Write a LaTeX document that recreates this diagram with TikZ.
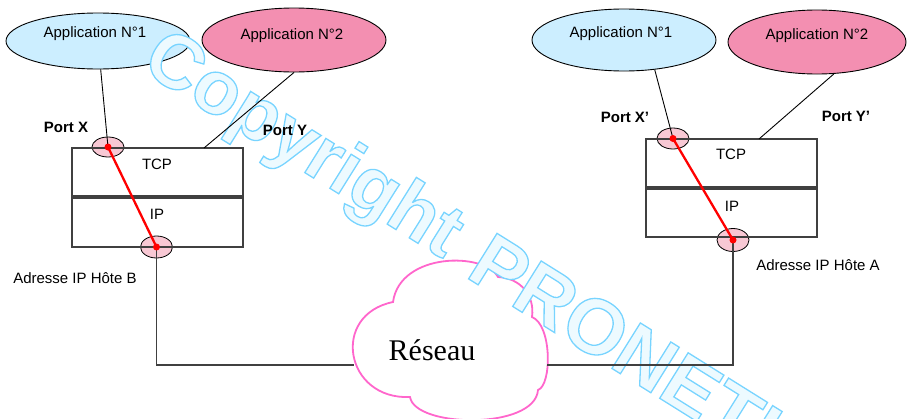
\documentclass[tikz,border=0pt]{standalone}
\usepackage{fontspec}
\setmainfont{Liberation Sans}
\newfontfamily\serifR{Liberation Serif}
\usetikzlibrary{shapes.geometric}
\definecolor{appblue}{RGB}{204,238,255}
\definecolor{apppink}{RGB}{243,143,177}
\definecolor{portpink}{RGB}{248,200,212}
\definecolor{cloudpink}{RGB}{255,102,204}
\definecolor{boxgray}{RGB}{64,64,64}
\definecolor{wmfill}{RGB}{236,250,255}
\newcommand\wmtext[1]{\special{pdf:literal direct 2 Tr 1.3 w 0.47 0.83 1 RG 0.93 0.98 1 rg}#1\special{pdf:literal direct 0 Tr}}
\begin{document}
\begin{tikzpicture}[x=1pt,y=-1pt,
  app/.style={ellipse,draw=black,line width=0.9pt,inner sep=0pt},
  port/.style={ellipse,draw=black,line width=0.8pt,fill=portpink,minimum width=32pt,inner sep=0pt},
  layer/.style={rectangle,draw=boxgray,line width=1.4pt,inner sep=0pt,minimum width=171pt},
  lbl/.style={font=\fontsize{15}{18}\selectfont,inner sep=0pt,anchor=base},
  plbl/.style={font=\bfseries\fontsize{15}{18}\selectfont,inner sep=0pt,anchor=base},
  conn/.style={draw=black,line width=0.9pt},
  net/.style={draw=boxgray,line width=1.3pt},
  redl/.style={draw=red,line width=2.3pt},
  dot/.style={circle,fill=red,inner sep=0pt,minimum size=7pt},
  wm/.style={inner sep=0pt,anchor=base west,rotate=-32,text=wmfill}
]
\useasboundingbox (0,0) rectangle (908,418);

% application ellipses
\node[app,fill=appblue,minimum width=184pt,minimum height=56pt] (a1L) at (98,41) {};
\node[app,fill=apppink,minimum width=184pt,minimum height=64pt] (a2L) at (294,40) {};
\node[app,fill=appblue,minimum width=184pt,minimum height=62pt] (a1R) at (624,40) {};
\node[app,fill=apppink,minimum width=178pt,minimum height=64pt] (a2R) at (817,42) {};

% ports
\node[port,minimum height=20pt] (pxL) at (108,147) {};
\node[port,minimum height=22pt] (bpL) at (156.5,247) {};
\node[port,minimum height=21pt] (pxR) at (673,138.5) {};
\node[port,minimum height=23pt] (bpR) at (733,240) {};

% layers
\node[layer,minimum height=48pt] (tcpL) at (157.5,172) {};
\node[layer,minimum height=49pt] (ipL) at (157.5,222.5) {};
\node[layer,minimum height=48pt] (tcpR) at (731.5,163) {};
\node[layer,minimum height=48pt] (ipR) at (731.5,213) {};

% cloud
\coordinate (cloudW) at (354,365);
\coordinate (cloudE) at (547,365);
\draw[draw=cloudpink,line width=1.8pt,fill=white]
  (393,302) .. controls (400,252) and (485,252) .. (498,277)
  .. controls (520,278) and (535,295) .. (532,317)
  .. controls (552,325) and (552,385) .. (538,390)
  .. controls (535,430) and (415,428) .. (410,397)
  .. controls (345,400) and (330,315) .. (393,302) -- cycle;

% watermark
\node[wm,font=\bfseries\fontsize{76}{80}\selectfont] (wm1) at (139,69) {\wmtext{Copyright}};
\node[wm,font=\bfseries\fontsize{78}{84}\selectfont] (wm2) at (464,276) {\wmtext{PRONETIS}};

% connectors
\coordinate (yL) at (204,148);
\coordinate (yR) at (759,139);
\draw[conn] (a1L) -- (pxL.center);
\draw[conn] (a2L.south) -- (yL);
\draw[conn] (a1R.-44) -- (pxR.center);
\draw[conn] (a2R.-62) -- (yR);

\draw[net] (bpL.center) -- (bpL.center |- cloudW) -- (cloudW);
\draw[net] (cloudE) -- (bpR.center |- cloudE) -- (bpR.center);

\draw[redl] (pxL.center) -- (bpL.center);
\draw[redl] (pxR.center) -- (bpR.center);
\node[dot] (dpxL) at (pxL.center) {};
\node[dot] (dbpL) at (bpL.center) {};
\node[dot] (dpxR) at (pxR.center) {};
\node[dot] (dbpR) at (bpR.center) {};

% texts
\node[lbl] (t1L) at (95,37) {Application N°1};
\node[lbl] (t2L) at (292,39) {Application N°2};
\node[lbl] (t1R) at (621,37) {Application N°1};
\node[lbl] (t2R) at (817,39) {Application N°2};
\node[plbl] (pX) at (66,132) {Port X};
\node[plbl] (pY) at (285,135) {Port Y};
\node[plbl] (pXr) at (625,122) {Port X’};
\node[plbl] (pYr) at (846,121) {Port Y’};
\node[lbl] (ttL) at (157,169) {TCP};
\node[lbl] (tiL) at (157,219) {IP};
\node[lbl] (ttR) at (731,159) {TCP};
\node[lbl] (tiR) at (732,211) {IP};
\node[lbl] (adB) at (75,283) {Adresse IP Hôte B};
\node[lbl] (adA) at (818,270) {Adresse IP Hôte A};
\node[font=\serifR\fontsize{30}{34}\selectfont,inner sep=0pt,anchor=base] (res) at (432,360) {Réseau};
\end{tikzpicture}
\end{document}
